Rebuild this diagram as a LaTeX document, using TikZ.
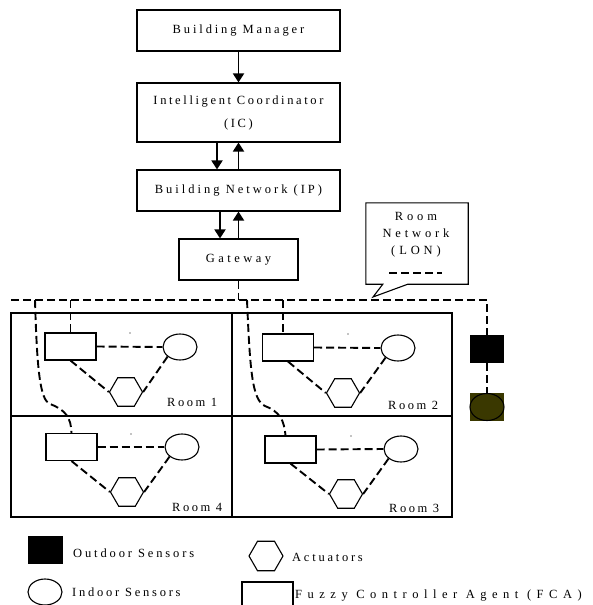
\documentclass[tikz,border=0pt]{standalone}
\usepackage{fontspec}
\setmainfont{Liberation Serif}[LetterSpace=23]
\usetikzlibrary{shapes.geometric,arrows.meta,calc}
\definecolor{olivesens}{RGB}{58,56,0}
\newcommand\lsp[1]{\addfontfeatures{LetterSpace=#1}}
\newcommand\fs{\fontsize{12.5}{14}\selectfont}
\tikzset{
 frame/.style={line width=1.1pt},
 box/.style={draw, line width=1.1pt, minimum width=203pt, minimum height=41pt, inner sep=0pt, font=\fs},
 arr/.style={line width=1.8pt, -{Triangle[length=9pt,width=11pt]}},
 dsh/.style={line width=1.9pt, dash pattern=on 8pt off 4pt},
 fca/.style={draw, line width=1.1pt, minimum width=51pt, minimum height=27pt, inner sep=0pt},
 isens/.style={draw, ellipse, line width=1.1pt, minimum width=34pt, minimum height=26pt, inner sep=0pt},
 act/.style={draw, regular polygon, regular polygon sides=6, minimum size=33pt, line width=1.1pt, inner sep=0pt},
 osens/.style={fill=black, minimum width=34pt, minimum height=28pt, inner sep=0pt},
 txt/.style={inner sep=0pt, font=\fs},
}
\begin{document}
\begin{tikzpicture}[x=1pt,y=-1pt]
\useasboundingbox (0,0) rectangle (593,605);
\clip (0,0) rectangle (593,605);
\fill[white] (0,0) rectangle (593,605);

% hierarchy
\node[box] (bm) at (238.5,30.5) {Building Manager};
\node[box, minimum height=59pt, align=center, font=\fontsize{12.5}{23}\selectfont\lsp{21}] (ic) at (238.5,112.5) {Intelligent Coordinator\\(IC)};
\node[box, font=\fs\lsp{24}] (bn) at (238.5,190.5) {Building Network (IP)};
\node[box, minimum width=119pt, font=\fs\lsp{28}] (gw) at (238.5,259.5) {Gateway};

\draw[arr] (bm.south) -- (ic.north);
\draw[arr] ([xshift=-21.5pt]ic.south) -- ([xshift=-21.5pt]bn.north);
\draw[arr] (bn.north) -- (ic.south);
\draw[arr] ([xshift=-18.5pt]bn.south) -- ([xshift=-18.5pt]gw.north);
\draw[arr] (gw.north) -- (bn.south);

% callout
\node[minimum width=102pt, minimum height=81pt, inner sep=0pt] (lon) at (417,243.5) {};
\coordinate (tip) at (373,297);
\draw[frame] (lon.north west) -- (lon.north east) -- (lon.south east) -- ($(lon.south west)+(42,0)$) -- (tip) -- ($(lon.south west)+(17,0)$) -- (lon.south west) -- cycle;
\node[txt, align=center, font=\fontsize{12.5}{17}\selectfont\lsp{31}] (lont) at (416,235) {Room\\Network\\(LON)};
\coordinate (ls1) at (389,273);
\coordinate (ls2) at (442,273);
\draw[dsh] (ls1) -- (ls2);

% rooms grid
\draw[frame] (11,313) rectangle (452,517);
\draw[frame] (232,313) -- (232,517);
\draw[frame] (11,416) -- (452,416);

% room 1
\node[fca] (fca1) at (70.5,346.5) {};
\node[isens] (ell1) at (180,347) {};
\node[act] (hex1) at (126,392) {};
% room 2
\node[fca] (fca2) at (288,347.5) {};
\node[isens] (ell2) at (398,348) {};
\node[act] (hex2) at (343,393) {};
% room 4
\node[fca] (fca4) at (71.5,447) {};
\node[isens] (ell4) at (182,447) {};
\node[act] (hex4) at (127,492) {};
% room 3
\node[fca] (fca3) at (290.5,449.5) {};
\node[isens] (ell3) at (401,449) {};
\node[act] (hex3) at (346,494) {};

\foreach \r in {1,2,3,4}{
  \draw[dsh] (fca\r.east) -- (ell\r.west);
  \draw[dsh] (fca\r.south) -- (hex\r.west);
  \draw[dsh] (ell\r.south west) -- (hex\r.east);
}

\fill (130,333) circle (0.7);
\fill (348,334) circle (0.7);
\fill (131,434) circle (0.7);
\fill (351,436) circle (0.7);

\node[txt, anchor=base west, font=\fs\lsp{20}] (r1) at (167,406) {Room 1};
\node[txt, anchor=base west, font=\fs\lsp{20}] (r2) at (388,409) {Room 2};
\node[txt, anchor=base west, font=\fs\lsp{20}] (r4) at (172,511) {Room 4};
\node[txt, anchor=base west, font=\fs\lsp{20}] (r3) at (389,512) {Room 3};

% outdoor sensors
\node[osens] (out) at (487,349) {};
\node[fill=olivesens, minimum width=34pt, minimum height=28pt, inner sep=0pt] (oin) at (487,407) {};
\node[isens, minimum height=27pt] (oine) at (487,407) {};

% bus
\coordinate (bl) at (11,300);
\coordinate (br) at (487,300);
\draw[dsh] (bl) -- (br) -- (out.north);
\draw[dsh] (gw.south) -- (gw.south |- bl);
\draw[dsh] (out.south) -- (oin.north);
\draw[dsh] (fca1.north |- bl) -- (fca1.north);
\coordinate (d2) at (283,300);
\draw[dsh] (d2) -- (d2 |- fca2.north);
\coordinate (c1) at (35,300);
\draw[dsh] (c1) .. controls (37,370) and (40,400) .. (50,404) .. controls (66,410) and (71,418) .. (fca4.north);
\coordinate (c2) at (247,300);
\draw[dsh] (c2) .. controls (250,370) and (252,400) .. (265,406) .. controls (280,412) and (284,420) .. ([xshift=-5pt]fca3.north);

% legend
\node[osens, minimum width=35pt] (lgo) at (45.5,550) {};
\node[txt, anchor=base west, font=\fs\lsp{23}] (lgot) at (73,557) {Outdoor Sensors};
\node[act, minimum size=34pt] (lga) at (266,556) {};
\node[txt, anchor=base west, font=\fs\lsp{22}] (lgat) at (292,561) {Actuators};
\node[isens] (lgi) at (45,592) {};
\node[txt, anchor=base west, font=\fs\lsp{22}] (lgit) at (72,596) {Indoor Sensors};
\node[fca, minimum height=40pt] (lgf) at (267.5,602) {};
\node[txt, anchor=base west, font=\fs\lsp{44}] (lgft) at (295,598.5) {Fuzzy Controller Agent (FCA)};
\end{tikzpicture}
\end{document}
